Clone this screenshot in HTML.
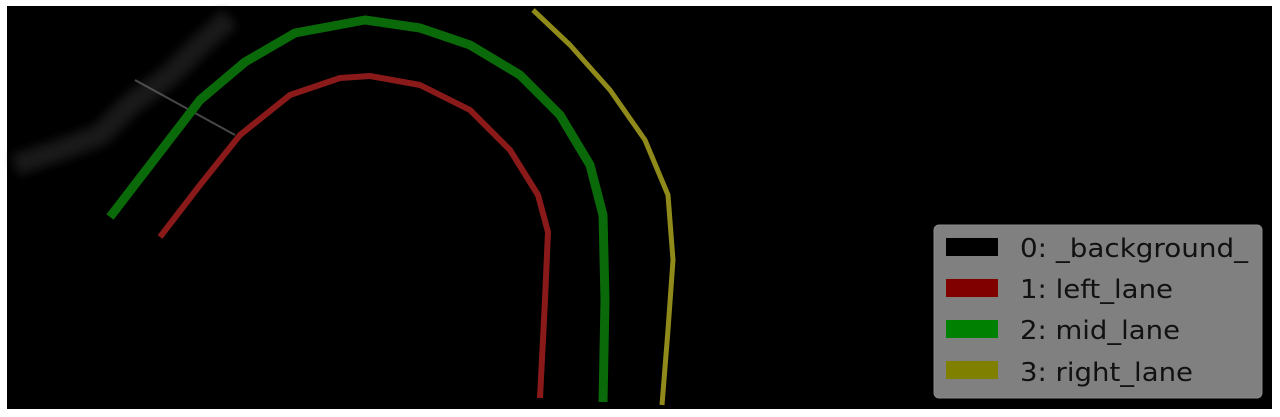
<!DOCTYPE html>
<html><head><meta charset="utf-8"><style>
html,body{margin:0;padding:0;background:#fff;}
svg{display:block;}
text{font-family:"DejaVu Sans","Liberation Sans",sans-serif;}
</style></head><body>
<svg width="1280" height="417" viewBox="0 0 1280 417">
<defs><filter id="blur"><feGaussianBlur stdDeviation="5"/></filter></defs>
<rect x="7" y="6" width="1265" height="403" fill="#000"/>
<g id="noise">
<path d="M15 165 L60 150 L100 135 L130 105 L170 75 L200 45 L230 18" stroke="#2a2a2a" stroke-width="22" fill="none" opacity="0.6" filter="url(#blur)"/>
<line x1="135" y1="80" x2="235" y2="135" stroke="#777" stroke-width="2" opacity="0.6"/>
</g>
<g id="lanes"></g>
<g>
<rect x="934" y="225" width="328" height="173" rx="5" fill="#808080" stroke="#8a8a8a"/>
<rect x="946" y="238" width="52" height="18" fill="#000"/>
<text x="1020" y="257" font-size="26" textLength="228" lengthAdjust="spacingAndGlyphs" fill="#111">0: _background_</text>
<rect x="946" y="279" width="52" height="18" fill="#800000"/>
<text x="1020" y="298" font-size="26" textLength="153" lengthAdjust="spacingAndGlyphs" fill="#111">1: left_lane</text>
<rect x="946" y="320" width="52" height="18" fill="#008000"/>
<text x="1020" y="339" font-size="26" textLength="160" lengthAdjust="spacingAndGlyphs" fill="#111">2: mid_lane</text>
<rect x="946" y="361" width="52" height="18" fill="#808000"/>
<text x="1020" y="381" font-size="26" textLength="173" lengthAdjust="spacingAndGlyphs" fill="#111">3: right_lane</text>
</g>
</svg>
<script>
const leftX=[160,200,240,290,340,370,420,470,510,538,548,545,540];
const leftY=[237,185,135,95,78,76,85,110,150,195,232,300,398];
const midX=[110,150,200,245,295,365,420,470,520,560,590,603,605,603];
const midY=[217,165,100,62,33,20,28,45,75,115,165,215,300,402];
const rightX=[533,570,610,645,668,673,668,662];
const rightY=[10,45,90,140,195,260,330,405];
const g=document.getElementById('lanes');
function lane(xs,ys,color,w,name){
  const p=document.createElementNS('http://www.w3.org/2000/svg','polyline');
  p.setAttribute('points',xs.map((x,i)=>x+','+ys[i]).join(' '));
  p.setAttribute('fill','none');p.setAttribute('stroke',color);
  p.setAttribute('stroke-width',w);p.setAttribute('stroke-linejoin','round');
  
  
  g.appendChild(p);
}
lane(leftX,leftY,'#8a1a1a',6,'left-lane');
lane(midX,midY,'#0a6a0a',9,'mid-lane');
lane(rightX,rightY,'#8f8a1a',5,'right-lane');
</script>
</body></html>
